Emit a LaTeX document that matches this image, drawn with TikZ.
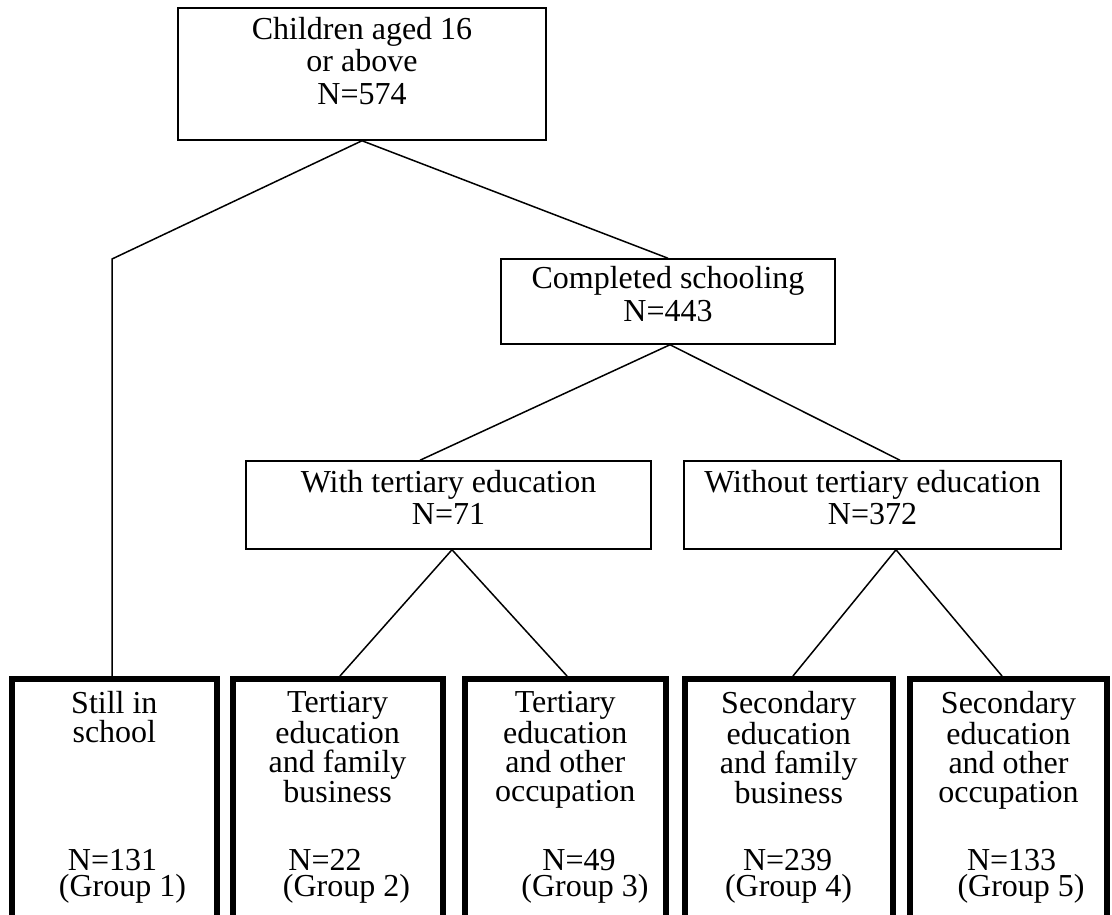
\documentclass[tikz,border=0pt]{standalone}
\usepackage{fontspec}
\setmainfont{Liberation Serif}
\usetikzlibrary{positioning}

\tikzset{
  box/.style={draw, line width=1.5pt, inner sep=0pt},
  groupbox/.style={draw, line width=6pt, inner sep=0pt},
  boxtext/.style={align=center, inner sep=0pt, font=\fontsize{32}{32.5}\selectfont},
  grouptext/.style={align=center, inner sep=0pt, font=\fontsize{32}{29}\selectfont},
  link/.style={line width=1.5pt}
}

\begin{document}
\begin{tikzpicture}[x=1pt,y=-1pt]
\useasboundingbox (0,0) rectangle (1112,915);
\clip (0,0) rectangle (1112,915);

% Upper levels of the tree
\node[box, minimum width=368pt, minimum height=132pt] (all) at (362,74) {};
\node[boxtext, below=9.5pt of all.north] (alltext) {Children aged 16\\or above\\N=574};

\node[box, minimum width=334pt, minimum height=85pt] (comp) at (668,301.5) {};
\node[boxtext, below=8pt of comp.north] (comptext) {Completed schooling\\N=443};

\node[box, minimum width=405pt, minimum height=88pt] (with) at (448.5,505) {};
\node[boxtext, below=9.5pt of with.north] (withtext) {With tertiary education\\N=71};

\node[box, minimum width=377pt, minimum height=88pt] (without) at (872.5,505) {};
\node[boxtext, below=9.5pt of without.north] (withouttext) {Without tertiary education\\N=372};

% Final groups (thick frames, cut at the bottom edge)
\foreach \gnum/\cx/\bw/\boxlines/\nx/\gap/\nval in {
  1/114.35/204.7/{Still in\\school}/112.5/20/131,
  2/337.6/210.2/{Tertiary\\education\\and family\\business}/325/43/22,
  3/565.25/201.5/{Tertiary\\education\\and other\\occupation}/579/12/49,
  4/788.75/208.5/{Secondary\\education\\and family\\business}/787.6/2/239,
  5/1008.5/197/{Secondary\\education\\and other\\occupation}/1011.6/19/133} {
  \node[groupbox, minimum width=\bw pt, minimum height=241pt] (g\gnum) at (\cx,799.5) {};
  \node[grouptext, below=15.5pt of g\gnum.north] (head\gnum) {\boxlines};
  \node[grouptext, anchor=south] (size\gnum) at (\nx,904)
    {N=\nval\\[-3pt]\hspace*{\gap pt}(Group \gnum)};
}

% Branches
\coordinate (elbow) at (112,259);
\draw[link] (all.south) -- (elbow) -- (elbow |- g1.north);
\draw[link] (all.south) -- (comp.north);
\draw[link] ([xshift=-28.5pt]with.north) -- ([xshift=2pt]comp.south) -- ([xshift=27.5pt]without.north);
\draw[link] ([xshift=2.4pt]g2.north) -- ([xshift=3.5pt]with.south) -- ([xshift=1.75pt]g3.north);
\draw[link] ([xshift=4.25pt]g4.north) -- ([xshift=23.5pt]without.south) -- ([xshift=-6.5pt]g5.north);
\end{tikzpicture}
\end{document}
